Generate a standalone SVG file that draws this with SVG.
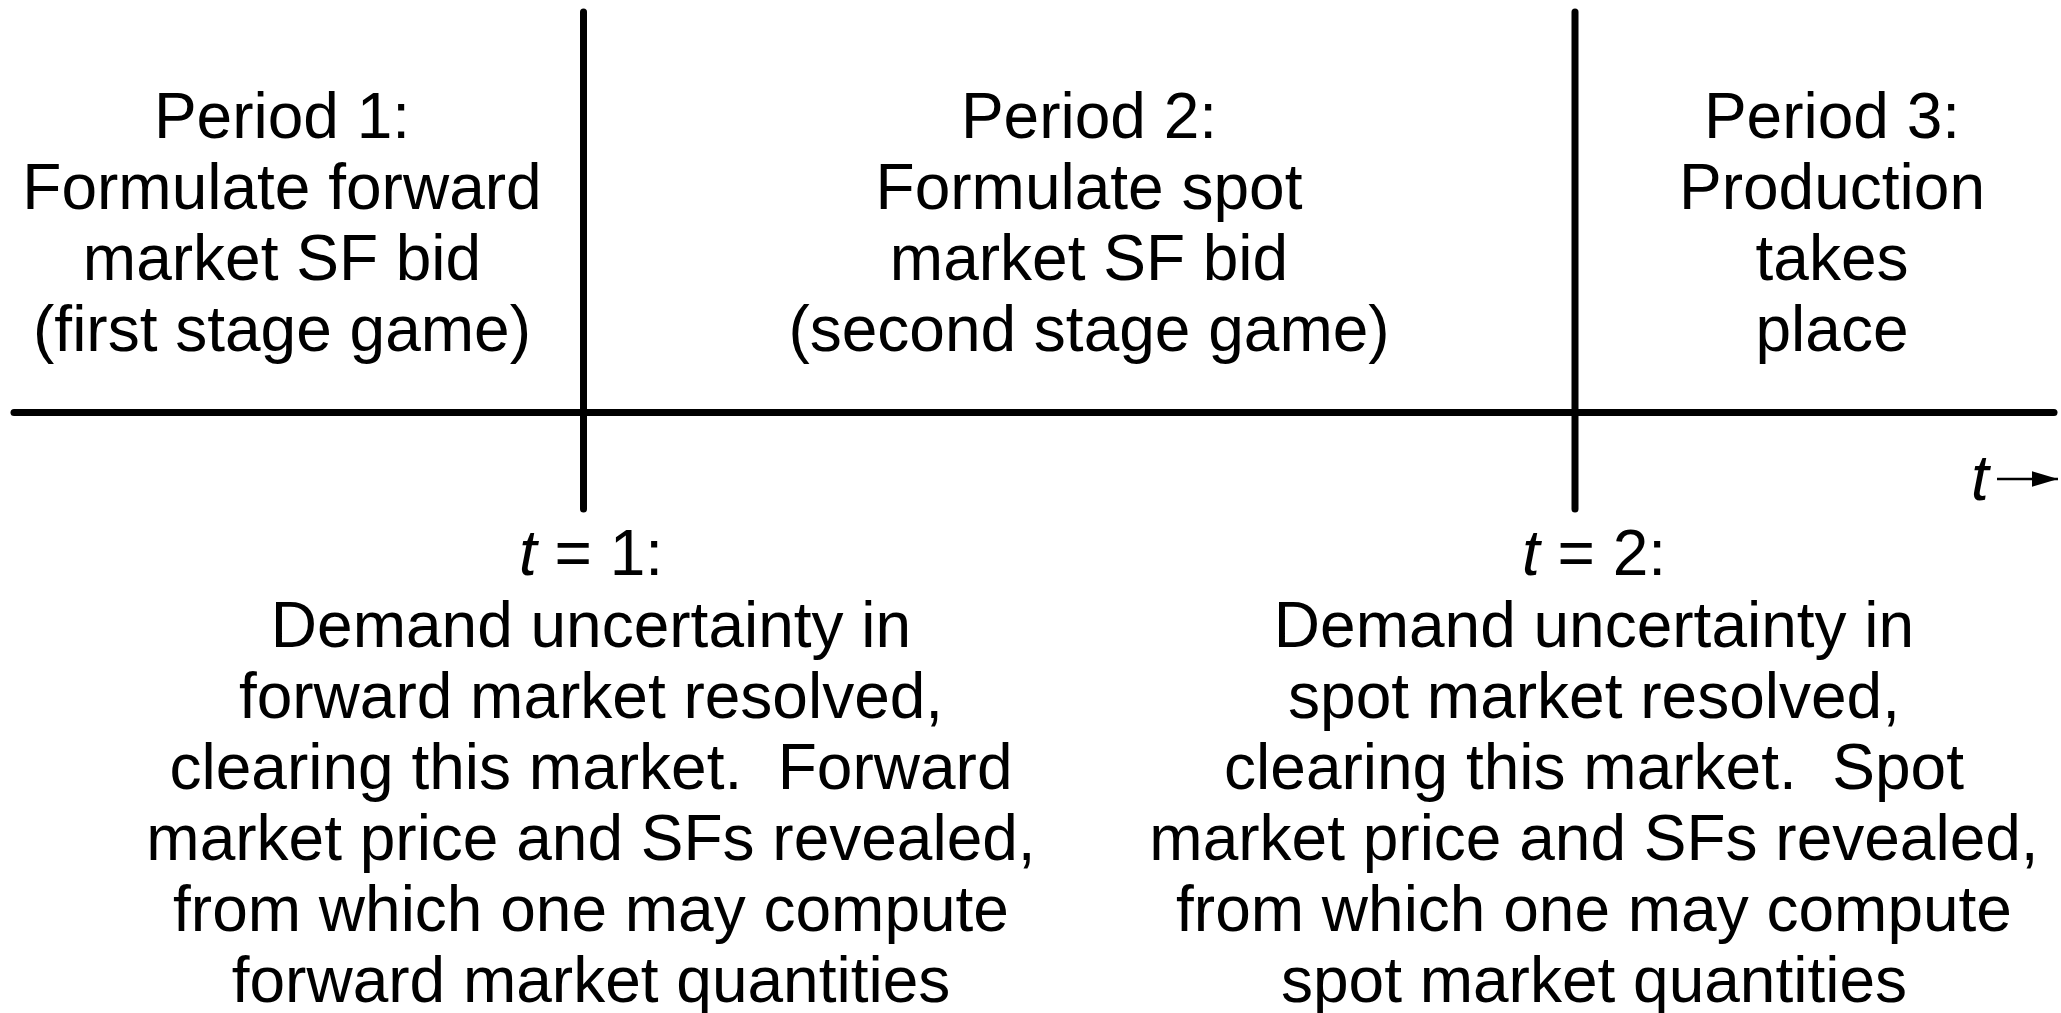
<svg xmlns="http://www.w3.org/2000/svg" width="2061" height="1013" viewBox="0 0 2061 1013">
  <style>
    .lbl { font-family: "Liberation Sans", Arial, sans-serif; font-size: 64px; fill: #000; text-anchor: middle; }
    .it { font-style: italic; }
    .axis { stroke: #000; stroke-width: 7; stroke-linecap: round; fill: none; }
  </style>
  <defs>
    <marker id="head" markerWidth="10" markerHeight="6" refX="10" refY="3" orient="auto" markerUnits="strokeWidth">
      <path d="M0,0 L10,3 L0,6 Z" fill="#000"/>
    </marker>
  </defs>
  <rect width="2061" height="1013" fill="#fff"/>

  <!-- timeline axis and period separators -->
  <g id="connectors">
    <line class="axis" x1="14" y1="412.5" x2="2054" y2="412.5"/>
    <line class="axis" x1="583.5" y1="12" x2="583.5" y2="509"/>
    <line class="axis" x1="1575" y1="12" x2="1575" y2="509"/>
    <line x1="1997" y1="479" x2="2058" y2="479" stroke="#000" stroke-width="2.6" marker-end="url(#head)"/>
  </g>

  <g id="time-label">
    <text class="lbl it" x="1980" y="500">t</text>
  </g>

  <g id="period1">
    <text class="lbl" x="282" y="138">Period 1:</text>
    <text class="lbl" x="282" y="209">Formulate forward</text>
    <text class="lbl" x="282" y="280">market SF bid</text>
    <text class="lbl" x="282" y="351">(first stage game)</text>
  </g>

  <g id="period2">
    <text class="lbl" x="1089" y="138">Period 2:</text>
    <text class="lbl" x="1089" y="209">Formulate spot</text>
    <text class="lbl" x="1089" y="280">market SF bid</text>
    <text class="lbl" x="1089" y="351">(second stage game)</text>
  </g>

  <g id="period3">
    <text class="lbl" x="1832" y="138">Period 3:</text>
    <text class="lbl" x="1832" y="209">Production</text>
    <text class="lbl" x="1832" y="280">takes</text>
    <text class="lbl" x="1832" y="351">place</text>
  </g>

  <g id="event-t1">
    <text class="lbl" x="591" y="575"><tspan class="it">t</tspan> = 1:</text>
    <text class="lbl" x="591" y="647">Demand uncertainty in</text>
    <text class="lbl" x="591" y="718">forward market resolved,</text>
    <text class="lbl" x="591" y="789" xml:space="preserve">clearing this market.  Forward</text>
    <text class="lbl" x="591" y="860">market price and SFs revealed,</text>
    <text class="lbl" x="591" y="931">from which one may compute</text>
    <text class="lbl" x="591" y="1002">forward market quantities</text>
  </g>

  <g id="event-t2">
    <text class="lbl" x="1594" y="575"><tspan class="it">t</tspan> = 2:</text>
    <text class="lbl" x="1594" y="647">Demand uncertainty in</text>
    <text class="lbl" x="1594" y="718">spot market resolved,</text>
    <text class="lbl" x="1594" y="789" xml:space="preserve">clearing this market.  Spot</text>
    <text class="lbl" x="1594" y="860">market price and SFs revealed,</text>
    <text class="lbl" x="1594" y="931">from which one may compute</text>
    <text class="lbl" x="1594" y="1002">spot market quantities</text>
  </g>
</svg>
